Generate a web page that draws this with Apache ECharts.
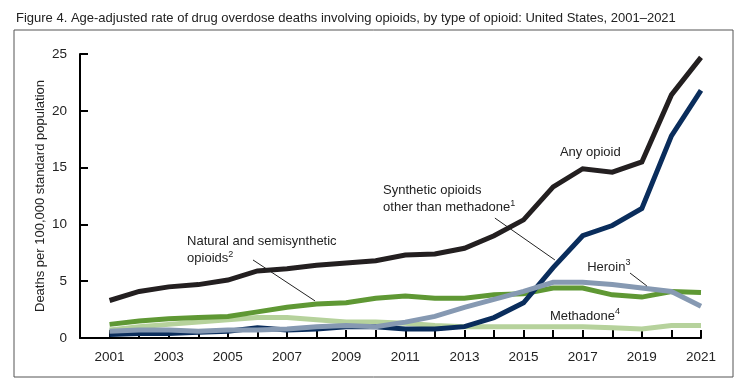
<!DOCTYPE html>
<html><head><meta charset="utf-8">
<script src="https://cdn.jsdelivr.net/npm/echarts@6/dist/echarts.min.js"></script>
<style>html,body{margin:0;padding:0;background:#fff}#c{width:746px;height:387px}</style>
</head><body><div id="c"></div>
<script>
const years = [2001,2002,2003,2004,2005,2006,2007,2008,2009,2010,2011,2012,2013,2014,2015,2016,2017,2018,2019,2020,2021];
const anyOpioid = [3.3,4.1,4.5,4.7,5.1,5.9,6.1,6.4,6.6,6.8,7.3,7.4,7.9,9.0,10.4,13.3,14.9,14.6,15.5,21.4,24.7];
const synthetic = [0.3,0.4,0.4,0.5,0.6,0.9,0.7,0.8,1.0,1.0,0.8,0.8,1.0,1.8,3.1,6.2,9.0,9.9,11.4,17.8,21.8];
const heroin = [0.6,0.7,0.7,0.6,0.7,0.7,0.8,1.0,1.1,1.0,1.4,1.9,2.7,3.4,4.1,4.9,4.9,4.7,4.4,4.1,2.8];
const natural = [1.2,1.5,1.7,1.8,1.9,2.3,2.7,3.0,3.1,3.5,3.7,3.5,3.5,3.8,3.9,4.4,4.4,3.8,3.6,4.1,4.0];
const methadone = [0.7,1.0,1.2,1.4,1.6,1.8,1.8,1.6,1.4,1.4,1.3,1.1,1.0,1.0,1.0,1.0,1.0,0.9,0.8,1.1,1.1];
const yTicks = [0,5,10,15,20,25];
const xLabels = [2001,2003,2005,2007,2009,2011,2013,2015,2017,2019,2021];

// annotations in data coordinates ({s|n} = superscript footnote)
const notes = [
  {text:'Any opioid', at:[2016.23,16.37]},
  {text:'Synthetic opioids\nother than methadone{s|1}', at:[2010.25,12.2]},
  {text:'Natural and semisynthetic\nopioids{s|2}', at:[2003.62,7.75]},
  {text:'Heroin{s|3}', at:[2017.15,6.25]},
  {text:'Methadone{s|4}', at:[2015.89,1.94]}
];
const leaders = [
  [[2014.03,10.56],[2016.06,6.87]],
  [[2005.85,6.87],[2007.95,3.26]],
  [[2018.6,5.72],[2019.17,4.58]]
];

const FONT = '"Liberation Sans", Arial, sans-serif';
const chart = echarts.init(document.getElementById('c'));
function mk(name, data, color, z) {
  return {name, type:'line', data: years.map((y,i)=>[y,data[i]]), symbol:'none',
    lineStyle:{color, width:5, join:'miter'}, itemStyle:{color}, z, silent:true, animation:false};
}
chart.setOption({
  animation:false,
  title:{text:'Figure 4. Age-adjusted rate of drug overdose deaths involving opioids, by type of opioid: United States, 2001\u20132021',
    left:11, top:7, textStyle:{fontFamily:FONT, fontSize:13, fontWeight:'normal', color:'#222'}},
  grid:{left:80, right:45, top:54, bottom:49},
  xAxis:{type:'value', min:2000, max:2021, interval:1,
    axisLine:{lineStyle:{color:'#000', width:2}},
    axisTick:{inside:true, length:8, lineStyle:{color:'#000', width:2}},
    axisLabel:{fontFamily:FONT, fontSize:13.5, color:'#222', margin:12,
      formatter:v=> xLabels.indexOf(v)>=0 ? String(v) : ''},
    splitLine:{show:false}},
  yAxis:{type:'value', min:0, max:25, interval:5,
    name:'Deaths per 100,000 standard population', nameLocation:'middle', nameGap:33, nameMoveOverlap:false,
    nameTextStyle:{fontFamily:FONT, fontSize:13, color:'#222'},
    axisLine:{show:true, lineStyle:{color:'#000', width:2}},
    axisTick:{show:true, inside:true, length:8, lineStyle:{color:'#000', width:2}},
    axisLabel:{fontFamily:FONT, fontSize:13.5, color:'#222', margin:13,
      formatter:v=> yTicks.indexOf(v)>=0 ? String(v) : ''},
    splitLine:{show:false}},
  series:[
    mk('Methadone', methadone, '#b6d29c', 2),
    mk('Natural and semisynthetic opioids', natural, '#5f9834', 3),
    mk('Synthetic opioids other than methadone', synthetic, '#0a2d5c', 4),
    mk('Heroin', heroin, '#8699b2', 5),
    mk('Any opioid', anyOpioid, '#231f20', 6)
  ]
});
const g = [{type:'rect', shape:{x:14, y:30, width:719, height:347}, style:{fill:'none', stroke:'#555', lineWidth:1}, z:0}];
notes.forEach(n=>{
  const p = chart.convertToPixel({gridIndex:0}, n.at);
  g.push({type:'text', x:p[0], y:p[1], z:20, style:{text:n.text, fill:'#222', fontFamily:FONT, fontSize:13,
    verticalAlign:'middle', align:'left', lineHeight:17,
    rich:{s:{fontSize:9, fontFamily:FONT, fill:'#222', verticalAlign:'top', lineHeight:17}}}});
});
leaders.forEach(l=>{
  const a = chart.convertToPixel({gridIndex:0}, l[0]);
  const b = chart.convertToPixel({gridIndex:0}, l[1]);
  g.push({type:'line', z:20, shape:{x1:a[0],y1:a[1],x2:b[0],y2:b[1]}, style:{stroke:'#222', lineWidth:1}});
});
chart.setOption({graphic:g});
</script></body></html>
